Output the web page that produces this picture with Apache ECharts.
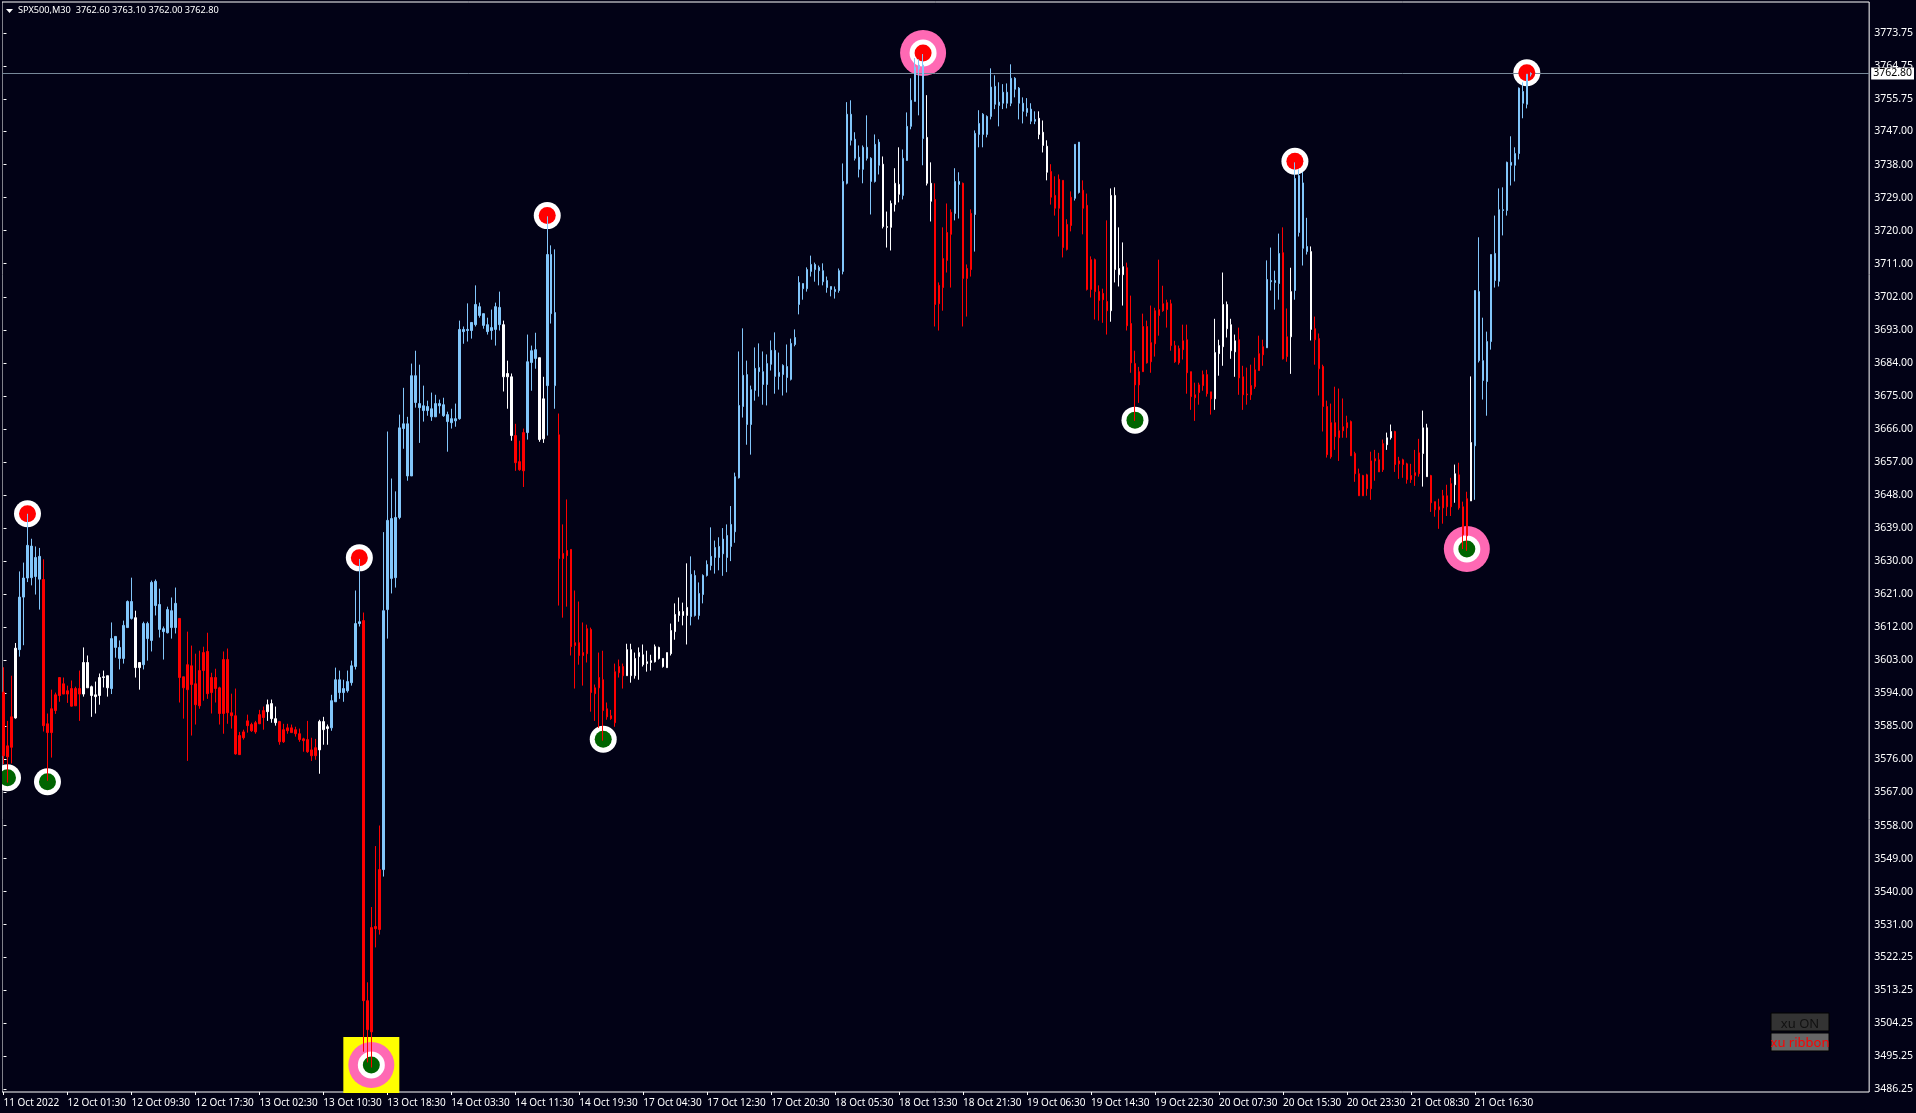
<!DOCTYPE html>
<html>
<head>
<meta charset="utf-8">
<title>SPX500,M30</title>
<style>
  html, body { margin: 0; padding: 0; background: #020216; }
  #chart { width: 1916px; height: 1113px; }
</style>
<script src="https://cdn.jsdelivr.net/npm/echarts@6/dist/echarts.min.js"></script>
</head>
<body>
<div id="chart"></div>
<script>
// one entry per M30 bar
const wickHighs = [
  3601.1,3586.5,3598.8,3607.7,3627.2,3629.6,3642.9,3636.1,3634,3633.6,
  3630.5,3588.5,3595,3594.2,3598.3,3598.3,3596.1,3597.5,3595.8,3600.2,
  3606.5,3604.3,3596.1,3597.2,3599.4,3600.2,3598.8,3613.3,3609.5,3608.4,
  3613.8,3619.3,3625.5,3616.5,3602.4,3613.5,3613.5,3624.7,3625,3622.5,
  3612.2,3617.6,3620.1,3622.8,3614.4,3598.5,3610.8,3607,3604.8,3605.6,
  3606.7,3610.5,3599.6,3600.7,3595.8,3605.4,3606.2,3593.9,3595.3,3583.5,
  3584.1,3588.2,3586,3586.5,3589.5,3590.4,3592.3,3592.3,3590.4,3586.5,
  3585.7,3585.7,3585.5,3584.9,3584.4,3581.9,3586.5,3581.9,3581.6,3586.8,
  3587.6,3585.5,3593.6,3601,3600.2,3597.7,3600.2,3602.9,3622,3630.6,
  3616,3515.3,3535.8,3552.4,3558,3637.9,3665.3,3652.5,3649,3669.9,
  3677.2,3669.3,3683.8,3687.3,3683.5,3677.8,3673.7,3675.9,3675.3,3674,
  3674.5,3670.7,3671.5,3672.9,3695.5,3693.9,3700.2,3695,3705.1,3700.4,
  3697.4,3696.3,3698.5,3700.4,3703.4,3695.5,3684.6,3681.1,3667.4,3662.8,
  3666.1,3691.7,3688.7,3692.2,3685.4,3680.2,3723.9,3716,3714.9,3670.2,
  3640,3646.8,3633.2,3622,3619,3613.3,3612.7,3611.9,3596.4,3605.1,
  3605.6,3591.5,3589.5,3602.1,3603.2,3602.1,3607.5,3607.5,3605.1,3606.5,
  3607.3,3605.6,3604.5,3607.3,3606.7,3603.5,3605.1,3613,3618.5,3620.1,
  3618.7,3629.4,3631.3,3627.5,3624.2,3626.4,3630.2,3639.2,3635.6,3636.5,
  3639,3640,3645,3654.1,3687.1,3693.4,3684.6,3677.8,3688.2,3689.3,
  3687.1,3686.3,3690.1,3692.3,3686.8,3683.6,3689,3690.6,3693.1,3707.6,
  3705.6,3710,3713.2,3711.3,3710.5,3711.1,3707.5,3704.8,3704.8,3709.7,
  3738.3,3755,3755.5,3746.8,3743.2,3743.2,3751.4,3740,3746.2,3744.9,
  3740.2,3725.2,3728.2,3737,3742.7,3742.1,3752.2,3761.5,3767,3766.7,
  3768.1,3756.9,3738.6,3732.9,3705.9,3720.9,3727.4,3725.8,3737,3735.9,
  3733.1,3710.8,3725.8,3747.3,3752.8,3752,3751.4,3764.2,3762.3,3760.4,
  3759.9,3760.1,3765.3,3761.8,3759.1,3756.3,3756.1,3754.7,3752.5,3752.5,
  3750,3744.6,3738.1,3734.8,3735.3,3733.7,3723.1,3730.7,3743.5,3744.1,
  3733.7,3730.1,3713,3712.4,3705.1,3704.2,3722.8,3731.5,3731.8,3720.9,
  3716.8,3711.3,3702.3,3687.3,3682.9,3697.4,3695.5,3699.6,3699,3712.1,
  3705,3701.2,3701.2,3690,3688.7,3694.4,3694.4,3681.6,3678.6,3678.6,
  3681.9,3682.1,3676.1,3696,3690.3,3708.6,3700.7,3696,3691.7,3693.6,
  3683.2,3682.7,3683.5,3685.4,3691.4,3690.3,3711.9,3715.4,3709.1,3719.2,
  3720.9,3698.8,3709.9,3738.6,3736.7,3736,3723.5,3715.7,3696.6,3692,
  3683.5,3673.7,3672.9,3677.5,3677,3674.3,3669.6,3668.3,3659.8,3655.2,
  3653.5,3653.8,3659.8,3660.3,3659.5,3663.1,3665,3667.2,3665.5,3658.4,
  3657.9,3656.8,3656.5,3660.3,3663.3,3671,3667.4,3653.5,3646.2,3647,
  3649.4,3650.8,3652.7,3656.3,3656.8,3646.2,3648.9,3680.3,3703.7,3718.2,
  3696.3,3692.5,3713.5,3724.1,3731.5,3731.8,3738.8,3745.7,3742.7,3759,
  3760.4,3762.6,3763.1
];
const bodyTops = [
  3594.3,3579.7,3587.6,3606.3,3620.2,3625.4,3634.3,3634.1,3631,3631.3,
  3625,3585.7,3589.8,3593.6,3598.3,3596.6,3594.7,3595.3,3595.3,3595.3,
  3602.4,3602.4,3595.8,3593.6,3598.3,3598.5,3598.8,3608.9,3609.5,3606.5,
  3612.5,3619,3619,3614.6,3602.4,3613,3613,3624.2,3624.5,3618.2,
  3611.6,3616.8,3616.5,3618.5,3614.4,3598.5,3601.8,3601.5,3596.6,3600.2,
  3605.1,3605.4,3598.3,3598.3,3595.5,3603.2,3603.2,3588.7,3587.9,3582.5,
  3583.5,3586.5,3585.5,3586,3588.2,3589.3,3590.9,3591.2,3587.1,3586.3,
  3584.1,3584.6,3584.6,3584.1,3583,3581.6,3581.4,3578.6,3579.2,3586.3,
  3586.3,3584.9,3592,3597.7,3597.7,3595.3,3597.2,3601.5,3613,3613.5,
  3613.8,3510.3,3530.2,3530.5,3546,3616.5,3641.1,3641.6,3641.9,3666.3,
  3667.4,3667.4,3680.5,3680.5,3672.9,3672.3,3672.1,3671.5,3672.9,3672.9,
  3672.6,3669.9,3668.8,3668.8,3693.1,3693.1,3693.1,3695,3699.9,3699.3,
  3697.4,3694.4,3693.6,3699.3,3699.1,3694.4,3681.1,3680.2,3664.2,3657.1,
  3665,3684.3,3687.3,3687.6,3685.4,3674.2,3713.5,3713.5,3697.7,3664.4,
  3632.1,3632.9,3633.2,3607.8,3607.8,3605.1,3611.6,3611.4,3595.5,3598.3,
  3597.7,3589.8,3587.9,3599.9,3601.3,3601.3,3605.9,3605.9,3603.5,3605.1,
  3604.5,3602.6,3602.9,3606.7,3606.5,3603.5,3605.1,3611.1,3615.5,3616.3,
  3616.3,3617.4,3626.4,3626.1,3621.2,3626.1,3629.1,3631.3,3633.7,3634,
  3636,3637,3640,3653,3672.4,3680.6,3680.8,3676.7,3682.5,3682.7,
  3681.6,3683.8,3687.4,3687.4,3681.4,3683.3,3683,3689.3,3690.9,3705.9,
  3705.6,3709.4,3710.8,3710.8,3710,3709.1,3706.4,3704.8,3704,3709.1,
  3733.4,3751.7,3751.7,3744.9,3740,3742.7,3742.7,3739.7,3743.5,3744.1,
  3738.1,3721.1,3727.4,3732.9,3732.6,3739.7,3748.4,3755.5,3764.5,3765.1,
  3765.1,3745.4,3732.9,3728.5,3705.1,3712.4,3719.5,3725,3733.4,3733.4,
  3732.9,3709.7,3724.7,3746.5,3749.2,3751.7,3751.1,3759.1,3759.3,3755,
  3757.7,3757.7,3761.5,3761.5,3758.8,3754.7,3753.3,3753.1,3750.3,3750.6,
  3746.8,3743,3736.1,3729.6,3734,3733.7,3721.7,3729.1,3743.5,3744.1,
  3731,3726.9,3712.1,3712.1,3703.4,3702.9,3700.7,3729.6,3729.6,3709.7,
  3710.2,3709.9,3694.7,3683.8,3681.6,3693.9,3693.9,3689.5,3698.2,3698.5,
  3700.1,3700.4,3700.1,3688.7,3687.9,3690,3690.3,3681.6,3675.3,3678,
  3680.8,3680.8,3676.1,3686.8,3688.7,3699.9,3699.9,3694.4,3690,3690.3,
  3680.2,3675.5,3677.8,3682.1,3686.5,3688.4,3706.7,3706.4,3706.4,3713.8,
  3714,3691.1,3703.4,3734.2,3735,3733,3715.7,3714.3,3693.3,3690.6,
  3683,3672.1,3667.7,3667.7,3665.5,3666.6,3667.7,3668,3659.3,3653.8,
  3653.3,3653.5,3657.3,3657.9,3657.6,3662,3663.6,3665.3,3665.3,3657.3,
  3657.6,3656.5,3653.3,3654.1,3659.5,3666.3,3666.3,3653.3,3646.2,3644.8,
  3647.8,3647.8,3651.1,3653.8,3653.5,3644.8,3647,3662.3,3703.7,3703.4,
  3684.6,3689.8,3713.5,3713.8,3725.7,3725.7,3738.6,3738.6,3741,3758.8,
  3757.9,3762.6,3762.8
];
const bodyBottoms = [
  3577,3576.7,3579.3,3587.3,3605.9,3620.2,3625.4,3625.5,3625.8,3625.1,
  3585.2,3583.3,3583.3,3589.3,3593.4,3593.8,3593.8,3590.5,3590.6,3593.8,
  3593.8,3595.5,3593.4,3593.1,3593.4,3598.3,3595.5,3595.3,3606.5,3603.5,
  3603.5,3611.9,3614.4,3601,3601,3601.8,3608.9,3608.4,3617.9,3611.4,
  3610.8,3610.5,3611.9,3611.9,3598.3,3595.5,3595,3596.4,3590.9,3590.6,
  3600.2,3593.9,3594.2,3595.3,3588.5,3588.5,3588.7,3587.9,3577.5,3577.3,
  3581.9,3585.2,3583.8,3583.5,3585.7,3587.4,3589,3587.1,3586,3580.8,
  3580.8,3583.8,3583.3,3583,3581.4,3581.1,3578.1,3577,3577,3578.6,
  3584.1,3584.4,3584.6,3591.7,3594.2,3594.2,3594.7,3596.9,3601.3,3613,
  3510.3,3502.4,3501.8,3529.9,3529.7,3546,3616.8,3625.3,3625.5,3641.9,
  3666.1,3653.2,3653.2,3673.2,3671.8,3671,3671,3669.3,3669.3,3672.3,
  3669.6,3668,3667.7,3668.2,3668.8,3692.5,3692.8,3692.8,3694.4,3696.9,
  3694.2,3692.5,3692.8,3693.1,3694.4,3680.2,3680.2,3664.2,3656.8,3654.9,
  3654.6,3665,3684.1,3685.2,3663.1,3663.3,3677.8,3697.4,3677.8,3630.7,
  3630.7,3631.5,3606.7,3607,3604.3,3604.3,3604.8,3594.2,3593.9,3595.5,
  3589.3,3587.6,3587.1,3586,3599.6,3598.8,3598.8,3598.8,3598.8,3604,
  3601.8,3602.1,3602.4,3602.6,3603.5,3601.3,3601,3604.8,3610.8,3615.2,
  3615.2,3615.2,3614.9,3615.2,3615.2,3620.9,3626.1,3628.8,3631,3631,
  3632,3631,3634,3638,3652.7,3672.1,3667.2,3667.2,3676.5,3681.6,
  3678.1,3678.1,3683.6,3680.3,3680.3,3680.8,3680,3679.5,3689,3699.9,
  3704.2,3704.2,3708.9,3709.4,3709.1,3706.1,3704.5,3704,3703.4,3703.7,
  3708.9,3732.9,3744.6,3739.7,3736.7,3736.7,3739.7,3733.4,3733.4,3737.8,
  3721.1,3720.9,3720.9,3727.1,3729.9,3729.6,3739.1,3748.4,3755.2,3764,
  3745.1,3732.9,3728,3699.9,3700.1,3704.5,3711.9,3719,3724.7,3732.6,
  3707,3707,3709.4,3724.4,3746.2,3746.2,3746.2,3751.1,3754.4,3754.1,
  3754.7,3754.7,3754.7,3758.5,3754.7,3752.5,3752.2,3749.8,3749.8,3746.2,
  3743.2,3735.9,3729.1,3726.1,3726.1,3715.4,3714.9,3721.4,3728.8,3730.4,
  3726.1,3704,3704,3703.4,3701,3701.2,3698.2,3698.2,3709.4,3708,
  3708,3694.1,3684,3678,3678,3681.6,3684,3684.3,3689.2,3696.9,
  3698.2,3698.5,3688.7,3684.3,3684,3687.6,3681.3,3674.8,3674.5,3675.9,
  3677.8,3675.6,3674.2,3674.2,3686.5,3688.4,3693.3,3687.3,3687,3679.9,
  3675.3,3675.3,3675.3,3677.5,3681.9,3686.2,3688.1,3706.1,3705.9,3705.6,
  3685.1,3685.7,3691.1,3703.7,3719.5,3715.2,3714.3,3693.1,3690.3,3682.4,
  3672.1,3659,3658.4,3663.9,3663.6,3665.5,3666.3,3658.7,3653.8,3647.8,
  3647.8,3649.7,3649.7,3657.3,3654.3,3654.9,3661.7,3663.6,3656.3,3656.5,
  3656.3,3652.2,3652.2,3653.3,3653.8,3659.3,3653,3645.9,3644,3644,
  3644.5,3644.8,3644.8,3650.8,3644.5,3637.2,3636.9,3646.4,3661.4,3684.6,
  3679.2,3678.9,3689.8,3706.4,3706.2,3725.5,3725.5,3737.8,3737.8,3741,
  3754.7,3754.4,3762.6
];
const wickLows = [
  3574.7,3569.7,3574.9,3587.1,3604,3607.1,3624.3,3623.4,3620.9,3616.8,
  3583.6,3570.2,3576.5,3588.4,3591.7,3593.8,3591.4,3590.4,3590.6,3586.5,
  3593.1,3595.5,3587.6,3588.5,3590.9,3595.6,3593.1,3593.8,3603.7,3600.5,
  3602.1,3611.9,3614.1,3598.3,3595,3600.5,3602.9,3605.4,3615.2,3609.2,
  3603.2,3610.3,3608.9,3610.3,3591.5,3587.1,3575.6,3582.5,3585.5,3589.8,
  3592,3592.5,3588.5,3591.5,3585.5,3583,3585.7,3584.4,3577.3,3577.3,
  3581.4,3583.3,3583.5,3583,3585.7,3584.1,3586.5,3586,3585.2,3580,
  3580.5,3583,3583.3,3582.2,3580.8,3578.1,3577.8,3575.6,3575.9,3572.1,
  3580,3580,3583.8,3591.7,3592.5,3591.7,3594.2,3596.1,3600.5,3612.2,
  3496.4,3493.5,3492.1,3524.8,3528.3,3544.1,3608.9,3621.2,3622.8,3641.4,
  3660.6,3651.9,3653.2,3671.8,3662.2,3668,3669.6,3668.2,3669.3,3670.2,
  3669.3,3659.8,3666.1,3666.6,3668.5,3689.2,3689.8,3690.6,3693.9,3696.3,
  3693.3,3691.7,3690.3,3688.7,3692.8,3676.2,3671.5,3662.8,3654.6,3654.6,
  3650.2,3663.1,3676.4,3682.4,3662.5,3662.2,3664.2,3694.7,3671.5,3617.9,
  3614.6,3617.6,3604.3,3595.3,3601.8,3596.1,3602.4,3589,3586.5,3584.6,
  3581.1,3586.8,3586.8,3584.9,3598.3,3595.3,3598.8,3596.9,3598,3597.7,
  3601.3,3599.9,3600.2,3602.4,3603.2,3601,3601,3604.3,3608.6,3613.5,
  3612.5,3607.3,3612.5,3614.9,3614.1,3618.5,3625.8,3627.5,3626.6,3627.5,
  3626,3627,3630,3635,3652.5,3669.1,3661.7,3659,3673.7,3674.8,
  3672.6,3672.4,3681.9,3675.6,3676.7,3675.1,3675.9,3679.2,3688.5,3697.2,
  3701.2,3703.4,3707.5,3706.1,3705.1,3705.1,3703.1,3702.1,3701.5,3703.1,
  3708.1,3732.6,3743.2,3739.1,3734.5,3732.9,3739.1,3724.4,3733.1,3735.3,
  3720.6,3715.4,3714.6,3725.2,3727.7,3728.5,3739.1,3747.6,3755.2,3751.4,
  3737.8,3732.3,3722.5,3693.9,3692.8,3698.2,3708.6,3704.5,3722.8,3723.3,
  3693.9,3696.6,3707.5,3714.3,3742.7,3742.7,3745.4,3750.3,3753.1,3748.4,
  3753.1,3753.3,3753.9,3756.3,3750.3,3749.2,3751.1,3749,3749,3744.9,
  3741.3,3733.7,3727.1,3724.1,3718.4,3712.7,3714.6,3719.8,3728.2,3730.1,
  3719,3703.7,3701.8,3695.8,3695.5,3694.9,3691.7,3695.2,3705.9,3704.8,
  3699.6,3692.8,3681.3,3668.2,3673.1,3681.6,3683.8,3681.3,3685.7,3691.4,
  3697.9,3693.6,3687.3,3684,3683.5,3684.9,3675.6,3671.2,3668.2,3672.6,
  3676.4,3674.8,3669.9,3671.2,3680.5,3683.2,3690.9,3685.1,3680.2,3675.3,
  3671.2,3672.6,3673.9,3676.9,3681.9,3683.2,3688.1,3703.7,3698.5,3701.2,
  3684.9,3684.3,3681,3701.2,3718.4,3710.5,3713.5,3690.1,3683.5,3675.1,
  3665.3,3658.2,3657.9,3660.3,3657.3,3663.6,3663.6,3658.7,3651.6,3647.8,
  3647.8,3647.8,3646.7,3651.9,3654.3,3654.3,3660.3,3663.1,3654.3,3652.4,
  3652.7,3651.1,3651.3,3650.5,3653,3650.3,3653,3643.4,3642.1,3638.8,
  3640.2,3642.3,3642.3,3645.9,3644,3633.3,3632.8,3646.4,3646.7,3684.1,
  3674,3669.6,3687.6,3704.5,3704.8,3718.7,3724.1,3732.3,3733.4,3739.4,
  3750.6,3753.3,3762
];

// colour of the ribbon over the bars: [colour name, how many bars]
const trendRuns = [
  ['red',3],['white',1],['blue',6],['red',10],['white',7],['blue',6],['white',2],['blue',9],
  ['red',22],['white',3],['red',10],['white',3],['blue',8],['red',5],['blue',30],['white',3],
  ['red',3],['blue',3],['white',2],['blue',3],['red',17],['white',16],['blue',48],['white',5],
  ['blue',6],['white',2],['red',5],['blue',2],['red',3],['blue',16],['white',3],['red',6],
  ['blue',2],['red',7],['white',4],['red',22],['white',6],['red',7],['blue',4],['red',2],
  ['white',1],['blue',4],['white',1],['red',18],['white',2],['red',7],['white',2],['red',6],
  ['white',1],['red',3],['white',1],['blue',15]
];

const timeLabels = [
  '11 Oct 2022','12 Oct 01:30','12 Oct 09:30','12 Oct 17:30','13 Oct 02:30','13 Oct 10:30',
  '13 Oct 18:30','14 Oct 03:30','14 Oct 11:30','14 Oct 19:30','17 Oct 04:30','17 Oct 12:30',
  '17 Oct 20:30','18 Oct 05:30','18 Oct 13:30','18 Oct 21:30','19 Oct 06:30','19 Oct 14:30',
  '19 Oct 22:30','20 Oct 07:30','20 Oct 15:30','20 Oct 23:30','21 Oct 08:30','21 Oct 16:30'
];
const barsPerLabel = 16;

const priceLabels = [
  '3773.75','3764.75','3755.75','3747.00','3738.00','3729.00','3720.00','3711.00','3702.00',
  '3693.00','3684.00','3675.00','3666.00','3657.00','3648.00','3639.00','3630.00','3621.00',
  '3612.00','3603.00','3594.00','3585.00','3576.00','3567.00','3558.00','3549.00','3540.00',
  '3531.00','3522.25','3513.25','3504.25','3495.25','3486.25'
];

// swing points: [bar, price]
const topSwings = [[6,3642.9],[89,3630.9],[136,3724.1],[230,3768.4],[323,3738.9],[381,3763]];
const bottomSwings = [[1,3571],[11,3569.9],[92,3492.8],[150,3581.5],[283,3668.4],[366,3633.3]];
const majorSwings = [[230,3768.4],[92,3492.8],[366,3633.3]];
const extremeSwings = [[92,3492.8]];

const lastOhlc = ['3762.60','3763.10','3762.00','3762.80'];
const lastPrice = 3762.8;

const BG = '#020216';
const BLUE = '#82C6FA';
const COLORS = { red: '#FF0000', white: '#FFFFFF', blue: BLUE };
const FONT = 'Noto Sans';

const trendOfBar = [];
trendRuns.forEach(([name, count]) => {
  for (let i = 0; i < count; i++) trendOfBar.push(COLORS[name]);
});

const candles = wickHighs.map((high, i) => {
  const c = trendOfBar[i];
  return {
    value: [i, bodyBottoms[i], bodyTops[i], wickLows[i], high],
    itemStyle: { color: c, color0: c, borderColor: c, borderColor0: c, borderColorDoji: c }
  };
});

function swingSeries(points, symbol, size, color, z) {
  return {
    type: 'scatter',
    data: points,
    symbol,
    symbolSize: size,
    itemStyle: { color, opacity: 1 },
    silent: true,
    clip: false,
    z
  };
}

const chart = echarts.init(document.getElementById('chart'), null, { renderer: 'canvas' });

chart.setOption({
  animation: false,
  backgroundColor: BG,
  textStyle: { fontFamily: FONT },
  grid: {
    show: true,
    left: 2,
    top: 2,
    width: 1868,
    height: 1090,
    containLabel: false,
    backgroundColor: 'transparent',
    borderColor: '#fff',
    borderWidth: 1
  },
  xAxis: {
    type: 'value',
    // half a pixel of offset so the 1px wicks land whole on a pixel column
    min: -0.375,
    max: 466.625,
    splitLine: { show: false },
    axisLine: { show: false },
    axisTick: {
      show: true,
      length: 3,
      lineStyle: { color: '#fff' },
      customValues: timeLabels.map((_, i) => i * barsPerLabel)
    },
    axisLabel: {
      color: '#fff',
      fontFamily: FONT,
      fontSize: 10,
      align: 'left',
      margin: 6,
      customValues: timeLabels.map((_, i) => i * barsPerLabel),
      formatter: (v) => timeLabels[v / barsPerLabel]
    }
  },
  yAxis: {
    type: 'value',
    position: 'right',
    min: 3485.43,
    max: 3782.27,
    splitLine: { show: false },
    axisLine: { show: false },
    axisTick: {
      show: true,
      length: 3,
      lineStyle: { color: '#fff' },
      customValues: priceLabels.map(Number)
    },
    axisLabel: {
      color: '#fff',
      fontFamily: FONT,
      fontSize: 10.5,
      margin: 5,
      padding: [5, 0, 0, 0],
      customValues: priceLabels.map(Number),
      formatter: (v) => v.toFixed(2)
    }
  },
  series: [
    {
      type: 'line',
      data: [],
      z: 1,
      silent: true,
      markLine: {
        silent: true,
        symbol: 'none',
        animation: false,
        lineStyle: { color: '#778899', width: 1, type: 'solid' },
        label: {
          show: true,
          position: 'end',
          distance: 2,
          formatter: lastOhlc[3],
          color: '#000',
          backgroundColor: '#fff',
          fontFamily: FONT,
          fontSize: 10.5,
          padding: [2, 2, 0, 2],
          lineHeight: 10
        },
        data: [{ yAxis: lastPrice }]
      }
    },
    swingSeries(extremeSwings, 'rect', 56, '#FFFF00', 2),
    swingSeries(majorSwings, 'circle', 46, '#FF69B4', 3),
    swingSeries(topSwings.concat(bottomSwings), 'circle', 27, '#FFFFFF', 4),
    swingSeries(topSwings, 'circle', 17, '#FF0000', 5),
    swingSeries(bottomSwings, 'circle', 17, '#006400', 5),
    {
      type: 'candlestick',
      data: candles,
      encode: { x: 0, y: [1, 2, 3, 4] },
      barWidth: 2,
      itemStyle: { borderWidth: 1 },
      large: false,
      progressive: 0,
      silent: true,
      clip: true,
      z: 6
    }
  ],
  graphic: [
    // covers what a swing circle pokes out left of the plot
    { type: 'rect', z: 20, shape: { x: 0, y: 0, width: 2, height: 1113 }, style: { fill: BG } },
    { type: 'polygon', z: 20, shape: { points: [[6, 9], [13, 9], [9.5, 13]] }, style: { fill: '#fff' } },
    {
      type: 'text', z: 20, left: 18, top: 6,
      style: {
        text: 'SPX500,M30  ' + lastOhlc.join(' '),
        fill: '#fff',
        font: '9.2px "' + FONT + '"'
      }
    },
    { type: 'rect', z: 20, shape: { x: 1771, y: 1013, width: 58, height: 18 }, style: { fill: '#333333', stroke: '#000', lineWidth: 1 } },
    { type: 'text', z: 21, style: { x: 1800, y: 1024, text: 'xu ON', fill: '#111', align: 'center', verticalAlign: 'middle', font: '13px "' + FONT + '"' } },
    { type: 'rect', z: 20, shape: { x: 1771, y: 1033, width: 58, height: 18 }, style: { fill: '#666666', stroke: '#000', lineWidth: 1 } },
    { type: 'text', z: 21, style: { x: 1800, y: 1043, text: 'xu ribbon', fill: '#FF0000', align: 'center', verticalAlign: 'middle', font: '13px "' + FONT + '"' } }
  ]
});
</script>
</body>
</html>
